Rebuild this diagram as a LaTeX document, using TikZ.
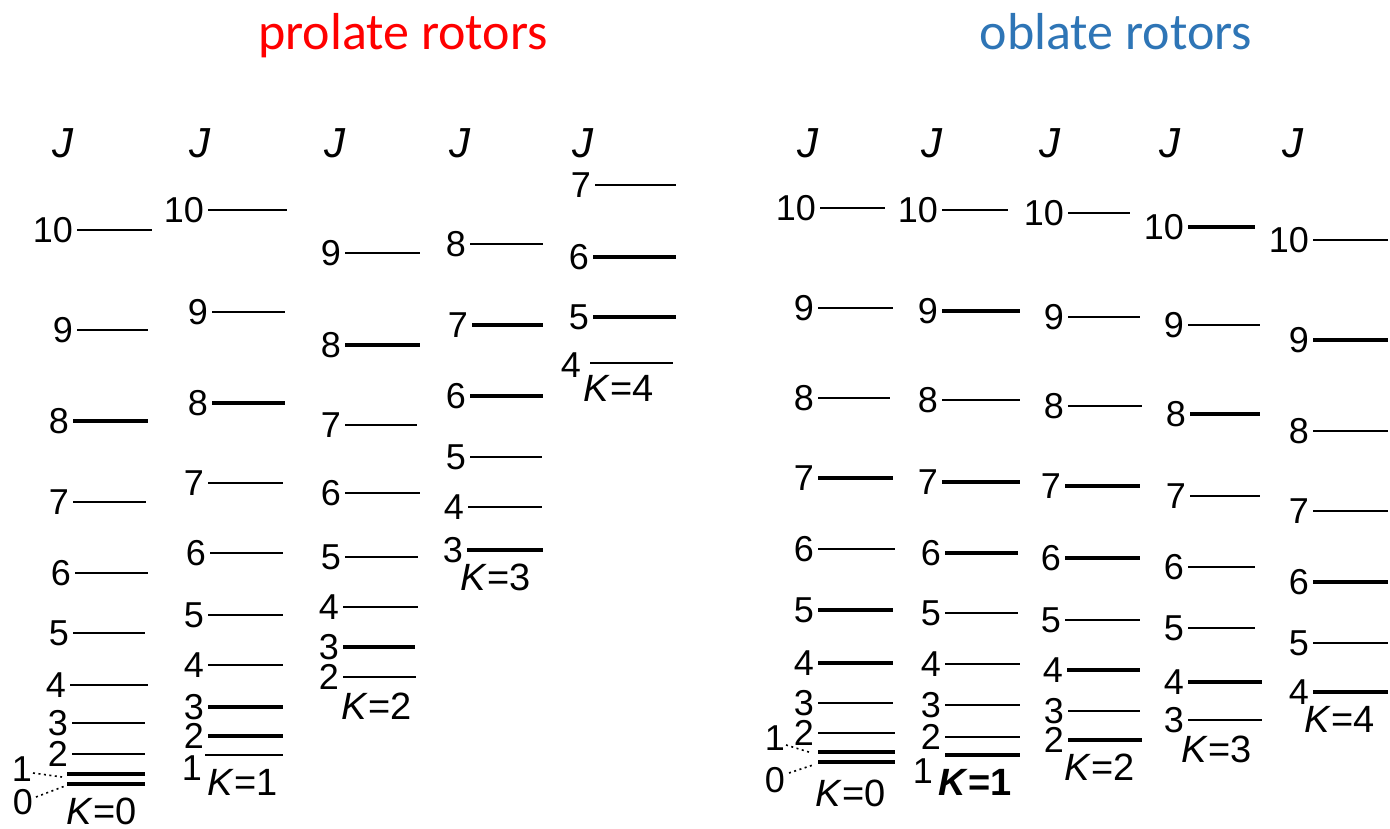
\documentclass[tikz,border=0pt]{standalone}
\usepackage{fontspec}
\newfontfamily\labfont{Liberation Sans}
\newfontfamily\titlefont{Carlito}
\definecolor{oblateblue}{HTML}{2E75B6}
\definecolor{prolatered}{HTML}{FF0000}

\tikzset{
  lvl/.style={line width=2.6pt},
  thick lvl/.style={line width=3.9pt},
  jnum/.style={inner sep=0pt, font=\labfont\fontsize{36}{38}\selectfont},
  jhead/.style={inner sep=0pt, font=\labfont\itshape\fontsize{42}{44}\selectfont},
  klab/.style={inner sep=0pt, font=\labfont\fontsize{38}{40}\selectfont},
  heading/.style={inner sep=0pt, font=\titlefont\fontsize{52}{56}\selectfont},
  dotlink/.style={line width=1.6pt, dash pattern=on 2pt off 3.5pt},
}

% level line with its J label on the left
% #1 style, #2 name, #3 x start, #4 x end, #5 y, #6 label
\newcommand{\lvl}[6][lvl]{%
  \coordinate (#2a) at (#3,#5);
  \coordinate (#2b) at (#4,#5);
  \draw[#1] (#2a) -- (#2b);
  \node[jnum, anchor=base east] (#2n) at ([xshift=-4pt, yshift=-12.9pt]#2a) {#6};
}
% level line without label
\newcommand{\barelvl}[5][lvl]{%
  \coordinate (#2a) at (#3,#5);
  \coordinate (#2b) at (#4,#5);
  \draw[#1] (#2a) -- (#2b);
}

\begin{document}
\begin{tikzpicture}[x=1pt, y=-1pt]
\useasboundingbox (0,0) rectangle (1390,829);

% titles
\node[heading, text=prolatered, anchor=base] (tprolate) at (403,50) {prolate rotors};
\node[heading, text=oblateblue, anchor=base] (toblate) at (1116,50) {oblate rotors};

% J headings
\foreach \x [count=\i] in {63,200,335,460,583,808,932,1050,1170,1293}
  \node[jhead, anchor=base] (J\i) at (\x,158) {J};

% ---------- prolate, K=0 ----------
\lvl{pa10}{77}{152}{230}{10}
\lvl{pa9}{77}{148}{330}{9}
\lvl[thick lvl]{pa8}{73}{148}{421}{8}
\lvl{pa7}{73}{146}{502}{7}
\lvl{pa6}{75}{148}{573}{6}
\lvl{pa5}{73}{145}{633}{5}
\lvl{pa4}{70}{148}{685}{4}
\lvl{pa3}{72}{145}{723}{3}
\lvl{pa2}{72}{145}{754}{2}
\barelvl[thick lvl]{pa1}{67}{145}{774}
\barelvl[thick lvl]{pa0}{67}{145}{784}
\node[jnum] (pa1n) at (22,769) {1};
\node[jnum] (pa0n) at (23,802) {0};
\coordinate (pa1d) at (62,777);
\coordinate (pa0d) at (65,786);
\draw[dotlink] (33,773) -- (pa1d);
\draw[dotlink] (36,797) -- (pa0d);
\node[klab] (pak) at (102,811) {\textit{K}=0};

% ---------- prolate, K=1 ----------
\lvl{pb10}{208}{287}{210}{10}
\lvl{pb9}{212}{285}{312}{9}
\lvl[thick lvl]{pb8}{212}{285}{403}{8}
\lvl{pb7}{208}{283}{483}{7}
\lvl{pb6}{210}{283}{553}{6}
\lvl{pb5}{208}{283}{615}{5}
\lvl{pb4}{208}{283}{665}{4}
\lvl[thick lvl]{pb3}{208}{283}{707}{3}
\lvl[thick lvl]{pb2}{208}{283}{736}{2}
\barelvl{pb1}{205}{283}{755}
\node[jnum] (pb1n) at (192,768) {1};
\node[klab] (pbk) at (243,782) {\textit{K}=1};

% ---------- prolate, K=2 ----------
\lvl{pc9}{345}{420}{253}{9}
\lvl[thick lvl]{pc8}{345}{420}{345}{8}
\lvl{pc7}{345}{417}{425}{7}
\lvl{pc6}{345}{420}{493}{6}
\lvl{pc5}{345}{418}{557}{5}
\lvl{pc4}{343}{418}{607}{4}
\lvl[thick lvl]{pc3}{343}{415}{647}{3}
\lvl{pc2}{343}{416}{677}{2}
\node[klab] (pck) at (377,706) {\textit{K}=2};

% ---------- prolate, K=3 ----------
\lvl{pd8}{470}{543}{244}{8}
\lvl[thick lvl]{pd7}{472}{543}{325}{7}
\lvl[thick lvl]{pd6}{470}{543}{396}{6}
\lvl{pd5}{470}{542}{457}{5}
\lvl{pd4}{468}{542}{507}{4}
\lvl[thick lvl]{pd3}{467}{543}{550}{3}
\node[klab] (pdk) at (496,577) {\textit{K}=3};

% ---------- prolate, K=4 ----------
\lvl{pe7}{595}{676}{185}{7}
\lvl[thick lvl]{pe6}{593}{676}{257}{6}
\lvl[thick lvl]{pe5}{593}{676}{317}{5}
\barelvl{pe4}{590}{673}{363}
\node[jnum, anchor=base east] (pe4n) at (581,377) {4};
\node[klab] (pek) at (619,388) {\textit{K}=4};

% ---------- oblate, K=0 ----------
\lvl{oa10}{820}{885}{208}{10}
\lvl{oa9}{818}{893}{308}{9}
\lvl{oa8}{818}{890}{398}{8}
\lvl[thick lvl]{oa7}{818}{893}{478}{7}
\lvl{oa6}{818}{895}{549}{6}
\lvl[thick lvl]{oa5}{818}{893}{610}{5}
\lvl[thick lvl]{oa4}{818}{893}{663}{4}
\lvl{oa3}{818}{893}{703}{3}
\lvl{oa2}{818}{895}{733}{2}
\barelvl[thick lvl]{oa1}{818}{895}{752}
\barelvl[thick lvl]{oa0}{818}{895}{762}
\node[jnum] (oa1n) at (775,738) {1};
\node[jnum] (oa0n) at (775,780) {0};
\coordinate (oa1d) at (812,753);
\coordinate (oa0d) at (813,765);
\draw[dotlink] (786,745) -- (oa1d);
\draw[dotlink] (789,773) -- (oa0d);
\node[klab] (oak) at (851,793) {\textit{K}=0};

% ---------- oblate, K=1 ----------
\lvl{ob10}{942}{1008}{210}{10}
\lvl[thick lvl]{ob9}{942}{1020}{311}{9}
\lvl{ob8}{942}{1020}{400}{8}
\lvl[thick lvl]{ob7}{942}{1020}{482}{7}
\lvl[thick lvl]{ob6}{945}{1018}{553}{6}
\lvl{ob5}{945}{1018}{613}{5}
\lvl{ob4}{945}{1020}{664}{4}
\lvl{ob3}{945}{1020}{705}{3}
\lvl{ob2}{945}{1020}{737}{2}
\barelvl[thick lvl]{ob1}{945}{1020}{755}
\node[jnum] (ob1n) at (923,771) {1};
\node[klab, font=\labfont\bfseries\fontsize{38}{40}\selectfont] (obk) at (975,782) {\textit{K}=1};

% ---------- oblate, K=2 ----------
\lvl{oc10}{1068}{1130}{213}{10}
\lvl{oc9}{1068}{1140}{317}{9}
\lvl{oc8}{1068}{1142}{406}{8}
\lvl[thick lvl]{oc7}{1065}{1140}{486}{7}
\lvl[thick lvl]{oc6}{1065}{1140}{558}{6}
\lvl{oc5}{1065}{1140}{620}{5}
\lvl[thick lvl]{oc4}{1067}{1140}{670}{4}
\lvl{oc3}{1068}{1140}{711}{3}
\lvl[thick lvl]{oc2}{1068}{1142}{740}{2}
\node[klab] (ock) at (1100,767) {\textit{K}=2};

% ---------- oblate, K=3 ----------
\lvl[thick lvl]{od10}{1188}{1255}{227}{10}
\lvl{od9}{1188}{1260}{325}{9}
\lvl[thick lvl]{od8}{1190}{1260}{414}{8}
\lvl{od7}{1190}{1260}{496}{7}
\lvl{od6}{1188}{1255}{567}{6}
\lvl{od5}{1188}{1255}{628}{5}
\lvl[thick lvl]{od4}{1188}{1262}{682}{4}
\lvl{od3}{1188}{1262}{720}{3}
\node[klab] (odk) at (1217,749) {\textit{K}=3};

% ---------- oblate, K=4 ----------
\lvl{oe10}{1313}{1388}{240}{10}
\lvl[thick lvl]{oe9}{1313}{1388}{340}{9}
\lvl{oe8}{1313}{1388}{431}{8}
\lvl{oe7}{1313}{1388}{511}{7}
\lvl[thick lvl]{oe6}{1313}{1388}{582}{6}
\lvl{oe5}{1313}{1388}{643}{5}
\lvl[thick lvl]{oe4}{1313}{1388}{692}{4}
\node[klab] (oek) at (1340,719) {\textit{K}=4};
\end{tikzpicture}
\end{document}
